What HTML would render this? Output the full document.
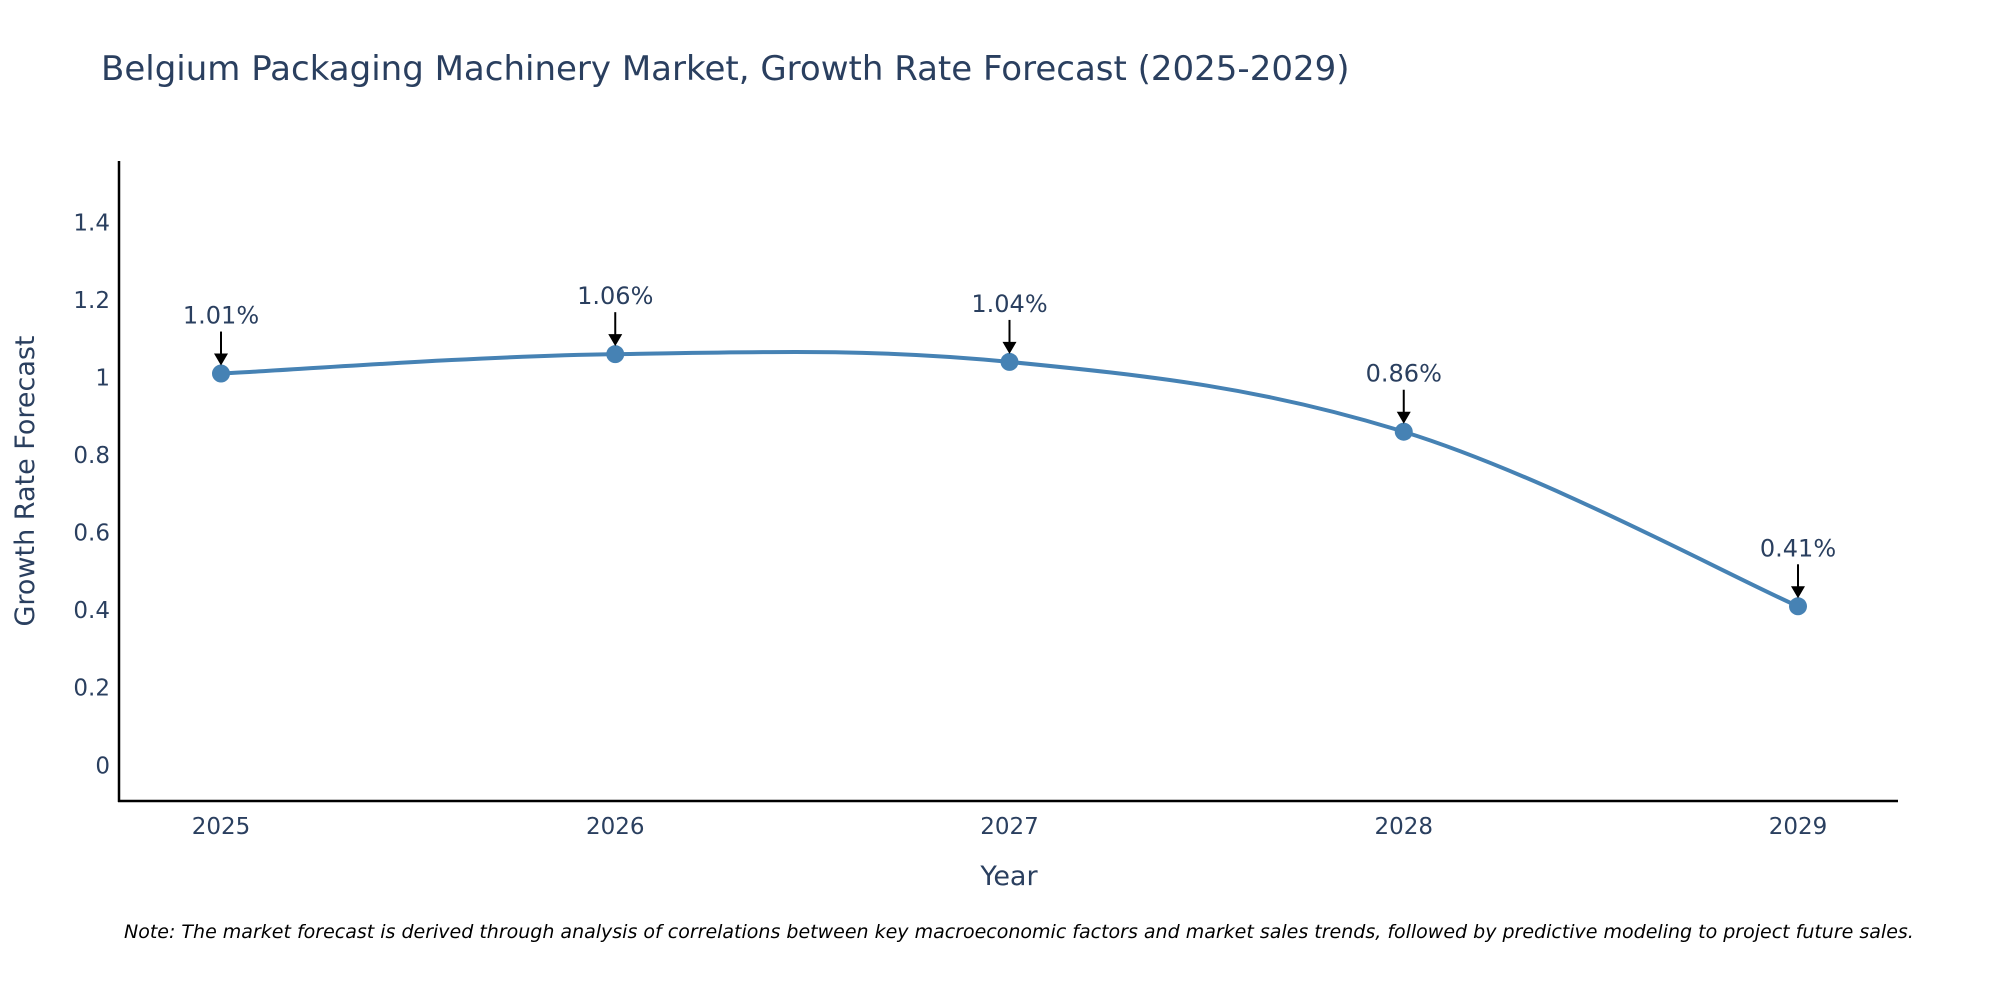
<!DOCTYPE html>
<html><head><meta charset="utf-8"><style>
body{margin:0;background:#fff;}
svg{display:block;font-family:"DejaVu Sans","Liberation Sans",sans-serif;}
</style></head><body>
<svg id="chart" width="2000" height="1000" viewBox="0 0 2000 1000">
<text x="101" y="80" font-size="34" fill="#2a3f5f">Belgium Packaging Machinery Market, Growth Rate Forecast (2025-2029)</text>
<g id="yticks"></g>
<g id="xticks"></g>
<line x1="119" y1="161" x2="119" y2="802" stroke="#000" stroke-width="2.5"/>
<line x1="118" y1="801" x2="1898" y2="801" stroke="#000" stroke-width="2.5"/>
<text x="34" y="481" font-size="27" fill="#2a3f5f" text-anchor="middle" transform="rotate(-90 34 481)">Growth Rate Forecast</text>
<text x="1009" y="885" font-size="27" fill="#2a3f5f" text-anchor="middle">Year</text>
<g id="series"></g>
<g id="annots"></g>
<text x="124" y="938" font-size="19" font-style="italic" fill="#000">Note: The market forecast is derived through analysis of correlations between key macroeconomic factors and market sales trends, followed by predictive modeling to project future sales.</text>
</svg>
<script>
const categories = ["2025","2026","2027","2028","2029"];
const values = [1.01, 1.06, 1.04, 0.86, 0.41];
const valueLabels = ["1.01%","1.06%","1.04%","0.86%","0.41%"];
const yTickValues = [0,0.2,0.4,0.6,0.8,1,1.2,1.4];
const yTickLabels = ["0","0.2","0.4","0.6","0.8","1","1.2","1.4"];

const NS="http://www.w3.org/2000/svg";
const yMin=-0.092, yMax=1.558, pyTop=161, pyBot=801;
function yScale(v){return pyBot-(v-yMin)/(yMax-yMin)*(pyBot-pyTop);}
const x0=221, x1=1798;
function xScale(i){return x0+i*(x1-x0)/(categories.length-1);}
function mk(tag,attrs,parent){const e=document.createElementNS(NS,tag);for(const k in attrs)e.setAttribute(k,attrs[k]);parent.appendChild(e);return e;}

const yt=document.getElementById('yticks');
yTickValues.forEach((v,i)=>{
  const t=mk('text',{x:110,y:yScale(v)+8,'font-size':23,fill:'#2a3f5f','text-anchor':'end'},yt);
  
  
  t.textContent=yTickLabels[i];
});
const xt=document.getElementById('xticks');
categories.forEach((c,i)=>{
  const t=mk('text',{x:xScale(i),y:834,'font-size':23,fill:'#2a3f5f','text-anchor':'middle'},xt);
  
  
  t.textContent=c;
});

const s=document.getElementById('series');
const pts=values.map((v,i)=>[xScale(i),yScale(v)]);
let d=`M${pts[0][0]},${pts[0][1]}`;
const k=0.18;
for(let i=0;i<pts.length-1;i++){
  const p0=pts[i-1]||pts[i],p1=pts[i],p2=pts[i+1],p3=pts[i+2]||pts[i+1];
  const c1=[p1[0]+(p2[0]-p0[0])*k,p1[1]+(p2[1]-p0[1])*k];
  const c2=[p2[0]-(p3[0]-p1[0])*k,p2[1]-(p3[1]-p1[1])*k];
  d+=` C${c1[0]},${c1[1]} ${c2[0]},${c2[1]} ${p2[0]},${p2[1]}`;
}
const line=mk('path',{d:d,fill:'none',stroke:'#4682b4','stroke-width':4},s);


pts.forEach(p=>{
  const c=mk('circle',{cx:p[0],cy:p[1],r:9,fill:'#4682b4'},s);
  
  
});

const an=document.getElementById('annots');
pts.forEach((p,i)=>{
  const l=mk('line',{x1:p[0],y1:p[1]-42,x2:p[0],y2:p[1]-18,stroke:'#000','stroke-width':2},an);
  
  
  const h=mk('polygon',{points:`${p[0]-7},${p[1]-20} ${p[0]+7},${p[1]-20} ${p[0]},${p[1]-8}`,fill:'#000'},an);
  
  
  const t=mk('text',{x:p[0],y:p[1]-50,'font-size':24,fill:'#2a3f5f','text-anchor':'middle'},an);
  
  
  t.textContent=valueLabels[i];
});
</script>
</body></html>
